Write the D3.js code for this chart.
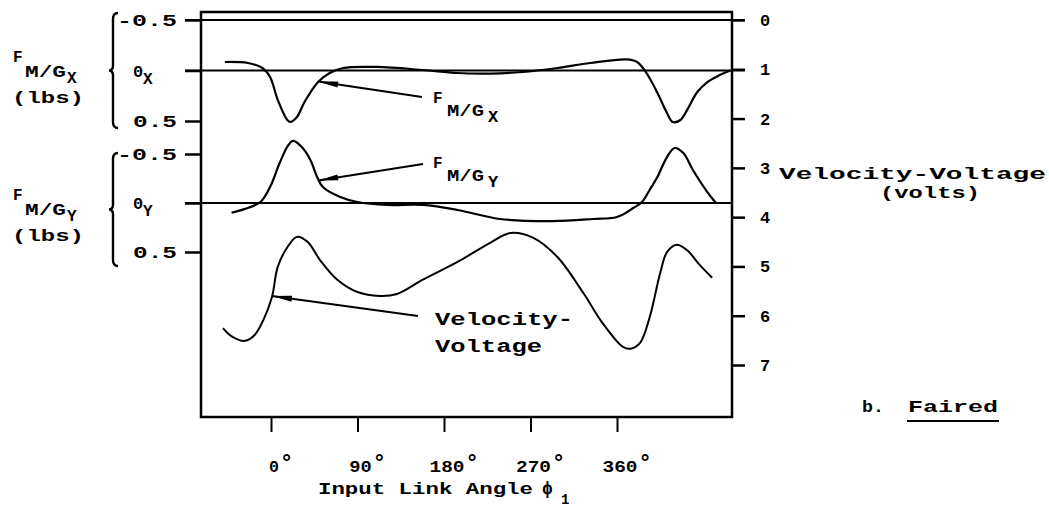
<!DOCTYPE html>
<html><head><meta charset="utf-8">
<script src="https://cdn.jsdelivr.net/npm/d3@7"></script>
<style>
body{margin:0;background:#fff}
svg{display:block;background:#fff}
text{font-family:"Liberation Mono","DejaVu Sans Mono",monospace;fill:#000;font-weight:bold}
</style>
</head><body><svg id="c" width="1049" height="517"></svg>
<script>
// ---------- data ----------
const xTickValues = [0, 90, 180, 270, 360];
const xTickLabels = ["0", "90", "180", "270", "360"];
const voltTickValues = [0, 1, 2, 3, 4, 5, 6, 7];
const voltTickLabels = ["0", "1", "2", "3", "4", "5", "6", "7"];
const forceTickValues = [-0.5, 0, 0.5];
const forceTickLabels = ["-0.5", "0", "0.5"];

const fxAngle = [-48, -24, -9, -1, 7, 17, 20, 27, 35, 49, 61, 75, 110, 158, 194, 228, 262, 298, 332, 370, 381, 387, 392, 402, 412, 418, 426, 433, 443, 454, 467, 478];
const fxValue = [-0.084, -0.074, -0.025, 0.064, 0.29, 0.49, 0.51, 0.46, 0.31, 0.114, 0.025, -0.025, -0.035, -0.005, 0.025, 0.03, 0.015, -0.025, -0.074, -0.11, -0.084, -0.025, 0.045, 0.22, 0.42, 0.51, 0.49, 0.39, 0.22, 0.114, 0.045, 0];

const fyAngle = [-41, -27, -11, -1, 9, 18, 23, 32, 41, 48, 54, 72, 90, 121, 158, 194, 238, 293, 335, 360, 377, 386, 394, 402, 412, 420, 429, 439, 454, 463];
const fyValue = [0.10, 0.06, -0.01, -0.163, -0.408, -0.59, -0.633, -0.571, -0.439, -0.265, -0.163, -0.061, -0.01, 0.02, 0.02, 0.071, 0.163, 0.184, 0.163, 0.143, 0.051, -0.01, -0.133, -0.265, -0.469, -0.561, -0.51, -0.337, -0.112, 0];

const velAngle = [-50, -40, -27, -17, -8, 1, 7, 17, 27, 38, 51, 69, 90, 113, 131, 158, 194, 228, 249, 273, 298, 325, 345, 366, 374, 384, 394, 405, 412, 422, 433, 446, 459];
const velValue = [6.25, 6.43, 6.51, 6.39, 6.09, 5.62, 5.01, 4.61, 4.40, 4.50, 4.87, 5.27, 5.52, 5.60, 5.56, 5.27, 4.91, 4.52, 4.32, 4.42, 4.81, 5.54, 6.15, 6.63, 6.67, 6.55, 6.03, 5.13, 4.71, 4.56, 4.67, 4.97, 5.23];

// annotation arrow tips (data units)
const annotAngle = [49, 49, 1];
const annotValue = [0.11, -0.23, 5.6];

// ---------- layout ----------
const L = 201, R = 732, T = 12, B = 417;
const svg = d3.select("#c");

const x = d3.scaleLinear().domain([0, 360]).range([271, 617]);
const yFx = d3.scaleLinear().domain([-0.5, 0.5]).range([20, 121]);
const yFy = d3.scaleLinear().domain([-0.5, 0.5]).range([154, 252]);
const yV = d3.scaleLinear().domain([0, 7]).range([20, 365]);

const ink = "#000";

function styleAxis(g, w) {
  g.select(".domain").remove();
  g.selectAll(".tick line").attr("stroke", ink).attr("stroke-width", w);
  g.selectAll(".tick text").remove();
}

// frame
svg.append("rect").attr("x", L).attr("y", T).attr("width", R - L).attr("height", B - T)
  .attr("fill", "none").attr("stroke", ink).attr("stroke-width", 2.5);

// axes
svg.append("g").attr("transform", `translate(0,${B})`)
  .call(d3.axisBottom(x).tickValues(xTickValues).tickSize(15).tickFormat(""))
  .call(g => styleAxis(g, 2));
svg.append("g").attr("transform", `translate(${R},0)`)
  .call(d3.axisRight(yV).tickValues(voltTickValues).tickSize(13).tickFormat(""))
  .call(g => styleAxis(g, 2.5));
svg.append("g").attr("transform", `translate(${L},0)`)
  .call(d3.axisLeft(yFx).tickValues(forceTickValues).tickSize(16).tickFormat(""))
  .call(g => styleAxis(g, 2.5));
svg.append("g").attr("transform", `translate(${L},0)`)
  .call(d3.axisLeft(yFy).tickValues(forceTickValues).tickSize(16).tickFormat(""))
  .call(g => styleAxis(g, 2.5));

// reference lines
const hl = [[yFx(-0.5), 185, 745], [yFx(0), 185, 745], [yFy(0), 185, R]];
hl.forEach(([yy, a, b]) => svg.append("line").attr("x1", a).attr("x2", b).attr("y1", yy).attr("y2", yy)
  .attr("stroke", ink).attr("stroke-width", 2.2));

// curves
const mk = (ys) => d3.line().x(d => x(d[0])).y(d => ys(d[1])).curve(d3.curveCatmullRom.alpha(0.5));
svg.append("path").attr("d", mk(yFx)(d3.zip(fxAngle, fxValue)))
  .attr("fill", "none").attr("stroke", ink).attr("stroke-width", 2.2);
svg.append("path").attr("d", mk(yFy)(d3.zip(fyAngle, fyValue)))
  .attr("fill", "none").attr("stroke", ink).attr("stroke-width", 2.2);
svg.append("path").attr("d", mk(yV)(d3.zip(velAngle, velValue)))
  .attr("fill", "none").attr("stroke", ink).attr("stroke-width", 2);

// text helper
function txt(px, py, s, size, len, anchor) {
  const t = svg.append("text").attr("x", px).attr("y", py).attr("font-size", size).text(s);
  if (len) t.attr("textLength", len).attr("lengthAdjust", "spacingAndGlyphs");
  if (anchor) t.attr("text-anchor", anchor);
  return t;
}

// bottom tick labels
xTickValues.forEach((v, i) => {
  const s = xTickLabels[i];
  const w = s.length * 12.5 - 2.5;
  const x0 = x(v) + 3 - w / 2;
  txt(x0, 472, s, 17, w);
  txt(x0 + w + 1, 470, "\u00B0", 22).attr("font-weight", "normal");
});
// x title
txt(318, 494, "Input Link Angle", 17, 215);
txt(542, 494, "\u03D5", 18);
txt(561, 504, "1", 14);

// right tick labels
voltTickValues.forEach((v, i) => txt(760, yV(v) + 6, voltTickLabels[i], 17));
txt(779, 179, "Velocity-Voltage", 17, 267);
txt(880, 198, "(volts)", 17, 100);

// b. Faired
txt(862, 412, "b.", 17, 22);
txt(908, 412, "Faired", 17, 90);
svg.append("line").attr("x1", 907).attr("x2", 999).attr("y1", 421).attr("y2", 421)
  .attr("stroke", ink).attr("stroke-width", 2);

// left tick labels
function leftLabels(ys, sub) {
  forceTickValues.forEach((v, i) => {
    const s = forceTickLabels[i];
    if (v === 0) {
      txt(133, ys(v) + 6, s, 17);
      txt(143, ys(v) + 13, sub, 16);
    } else {
      const w = s.length === 4 ? 60 : 44;
      txt(177 - w, ys(v) + 6, s, 17, w);
    }
  });
}
leftLabels(yFx, "X");
leftLabels(yFy, "Y");

// braces
function brace(xb, y0, y1) {
  const ym = (y0 + y1) / 2;
  const p = d3.path();
  p.moveTo(xb + 5, y0);
  p.quadraticCurveTo(xb, y0, xb, y0 + 6);
  p.lineTo(xb, ym - 5);
  p.quadraticCurveTo(xb, ym, xb - 4, ym);
  p.quadraticCurveTo(xb, ym, xb, ym + 5);
  p.lineTo(xb, y1 - 6);
  p.quadraticCurveTo(xb, y1, xb + 5, y1);
  svg.append("path").attr("d", p.toString()).attr("fill", "none").attr("stroke", ink).attr("stroke-width", 2.4);
}
brace(113, 13, 128);
brace(113, 153, 266);

// left axis labels
function forceLabel(y0, sub) {
  txt(13, y0, "F", 16);
  txt(25, y0 + 15, "M/G", 16, 41);
  txt(67, y0 + 21, sub, 16);
  txt(12, y0 + 41, "(lbs)", 16, 72);
}
forceLabel(62, "X");
forceLabel(200, "Y");

// annotations
function arrow(tx, ty, sx, sy) {
  svg.append("line").attr("x1", sx).attr("y1", sy).attr("x2", tx).attr("y2", ty)
    .attr("stroke", ink).attr("stroke-width", 2);
  const dx = tx - sx, dy = ty - sy, len = Math.hypot(dx, dy);
  const ux = dx / len, uy = dy / len, nx = -uy, ny = ux;
  const hl = 20, hw = 3;
  const bx = tx - ux * hl, by = ty - uy * hl;
  svg.append("path").attr("d", `M${tx},${ty}L${bx + nx * hw},${by + ny * hw}L${bx - nx * hw},${by - ny * hw}Z`)
    .attr("fill", ink);
}
arrow(x(annotAngle[0]), yFx(annotValue[0]), 422, 97);
arrow(x(annotAngle[1]), yFy(annotValue[1]), 423, 164);
arrow(x(annotAngle[2]), yV(annotValue[2]), 418, 316);

function inLabel(y0, sub) {
  txt(433, y0, "F", 16);
  txt(447, y0 + 13, "M/G", 16, 37);
  txt(488, y0 + 19, sub, 17);
}
inLabel(103, "X");
inLabel(168, "Y");
txt(435, 325, "Velocity-", 18, 138);
txt(435, 352, "Voltage", 18, 107);
</script>
</body></html>
